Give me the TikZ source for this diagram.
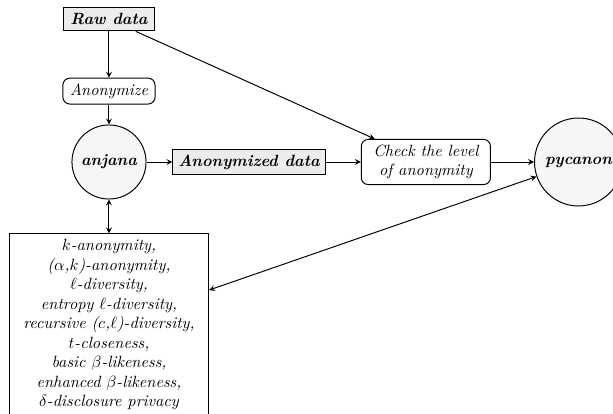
\documentclass[tikz,border=0pt]{standalone}
\usetikzlibrary{positioning}

\begin{document}
\begin{tikzpicture}[>=stealth, semithick, font=\itshape,
    lib/.style={circle,draw,fill=gray!7,minimum size=16mm,inner sep=1pt,font=\bfseries\itshape},
    data/.style={draw,rectangle,fill=gray!15,font=\bfseries\itshape},
    task/.style={draw,rectangle,rounded corners=1.5mm,align=center}]
    \useasboundingbox (-2.354,3.499) rectangle (10.886,-5.443);

    % libraries
    \node[lib] (anjana) {anjana};

    % anonymization
    \node[task,minimum width=1.99cm,minimum height=5.6mm,above=0.43cm of anjana] (anon) {Anonymize};
    \node[data,minimum width=1.97cm,minimum height=5mm,above=1cm of anon] (raw) {Raw data};
    \node[data,minimum height=5.6mm,right=0.56cm of anjana] (anondata) {Anonymized data};

    % checking
    \node[task,minimum width=2.79cm,minimum height=8.9mm,right=0.76cm of anondata] (check) {Check the level\\ of anonymity};
    \node[lib,minimum size=1.9cm,right=0.93cm of check] (pycanon) {pycanon};

    % techniques
    \node[draw,rectangle,align=center,minimum width=4.3cm,below=0.73cm of anjana,anchor=north] (tech)
        {$k$-anonymity,\\ ($\alpha$,$k$)-anonymity,\\ $\ell$-diversity,\\ entropy $\ell$-diversity,\\
         recursive ($c$,$\ell$)-diversity,\\ $t$-closeness,\\ basic $\beta$-likeness,\\
         enhanced $\beta$-likeness,\\ $\delta$-disclosure privacy};

    % edges
    \draw[->] (raw) -- (anon);
    \draw[->] (anon) -- (anjana);
    \draw[->] (anjana) -- (anondata);
    \draw[->] (anondata) -- (check);
    \draw[->] (raw) -- (check);
    \draw[->] (check) -- (pycanon);
    \draw[<->] (anjana) -- (tech);
    \draw[<->] (tech) -- (pycanon);
\end{tikzpicture}
\end{document}
